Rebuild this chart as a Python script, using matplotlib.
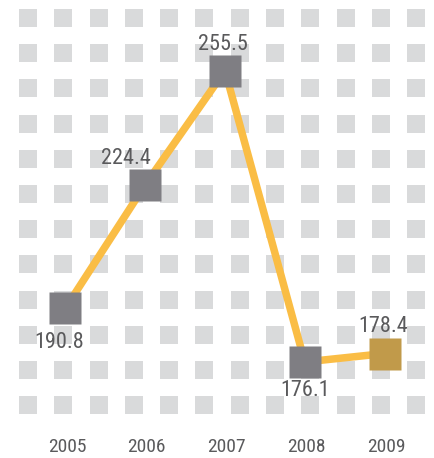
import numpy as np
import matplotlib.pyplot as plt
from matplotlib.patches import Rectangle
from matplotlib import font_manager

# datos
years = [2005, 2006, 2007, 2008, 2009]
values = [190.8, 224.4, 255.5, 176.1, 178.4]
labels = ['190.8', '224.4', '255.5', '176.1', '178.4']
# desplazamiento de cada etiqueta respecto al punto (pixeles)
label_offsets = [(-6.5, -39.5), (-19, 20.5), (-2.5, 21), (0, -34.5), (-1.5, 21.5)]

line_color = '#FABD45'
marker_color = '#7F7E83'
last_color = '#C19A4A'
dot_color = '#D9DADB'
text_color = '#5A5A5C'

# fuente estrecha si existe
names = {f.name for f in font_manager.fontManager.ttflist}
narrow = [n for n in ['Liberation Sans Narrow', 'Roboto Condensed', 'Open Sans Condensed']
          if n in names]
font = narrow[0] if narrow else 'Liberation Sans'
val_size, year_size = (16, 14) if narrow else (15, 13)
plt.rcParams['font.family'] = [font, 'DejaVu Sans']

W, H = 435, 458
fig = plt.figure(figsize=(W / 100, H / 100), dpi=100)

# fondo de cuadraditos grises (coordenadas en pixeles)
bg = fig.add_axes([0, 0, 1, 1])
bg.set_xlim(0, W)
bg.set_ylim(H, 0)
bg.axis('off')
side = 18
for cx in 28 + 35.3 * np.arange(12):
    for cy in 18 + 35.2 * np.arange(12):
        bg.add_patch(Rectangle((cx - side / 2, cy - side / 2), side, side,
                               facecolor=dot_color, edgecolor='none'))

# ejes de los datos
ax = fig.add_axes([0, 0, 1, 1])
ax.patch.set_alpha(0)
ax.set_xlim(2004.179, 2009.633)
ax.set_ylim(149.93, 274.76)
ax.axis('off')

ax.plot(years, values, color=line_color, lw=5.4, solid_capstyle='butt', zorder=2)
colors = [marker_color] * (len(years) - 1) + [last_color]
for x, v, c in zip(years, values, colors):
    ax.plot(x, v, marker='s', ms=22.5, color=c, mec='none', zorder=3)

for x, v, lab, off in zip(years, values, labels, label_offsets):
    ax.annotate(lab, (x, v), xytext=off, textcoords='offset pixels',
                ha='center', va='baseline', fontsize=val_size, color=text_color)

for x in years:
    ax.annotate(str(x), (x, 0), xycoords=('data', 'figure pixels'),
                xytext=(1.5, 6), textcoords='offset pixels',
                ha='center', va='baseline', fontsize=year_size, color=text_color)

fig.savefig('out.png', dpi=100)
